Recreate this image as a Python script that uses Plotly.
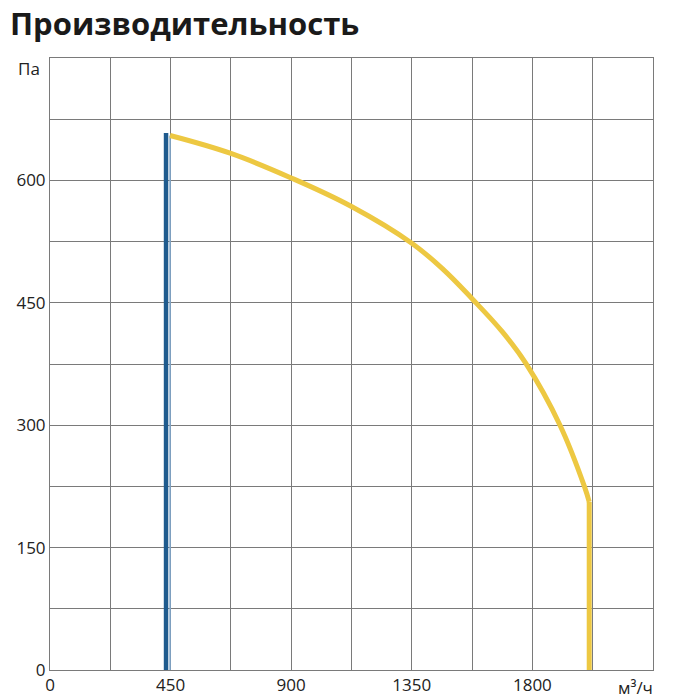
import plotly.graph_objects as go

# Data
curve_x = [448, 675, 900, 1125, 1350, 1467, 1575, 1689, 1775, 1903, 1994, 2012]
curve_y = [655, 633, 603, 568, 523, 491, 455, 414, 376, 300, 225, 206]
drop_x = [2012, 2012]
drop_y = [206, 0]
blue_x = [433, 433]
blue_y = [0, 658]
light_x = [448, 448]
light_y = [0, 655]

x_ticks = [0, 450, 900, 1350, 1800]
y_ticks = [0, 150, 300, 450, 600]
x_unit = "м³/ч"
y_unit = "Па"
title = "Производительность"

YELLOW = "#EDC842"
BLUE = "#1F5B8E"
LIGHT = "#7FA9D0"
GRID = "#7a7a7a"

# page has an 8px body margin, so the figure is 692 px and offsets are reduced by 8
W = H = 692

fig = go.Figure()
fig.add_trace(go.Scatter(x=light_x, y=light_y, mode="lines",
                         line=dict(color=LIGHT, width=1.5), hoverinfo="skip"))
fig.add_trace(go.Scatter(x=blue_x, y=blue_y, mode="lines",
                         line=dict(color=BLUE, width=4.5), hoverinfo="skip"))
fig.add_trace(go.Scatter(x=curve_x, y=curve_y, mode="lines",
                         line=dict(color=YELLOW, width=5, shape="spline", smoothing=1.1),
                         hoverinfo="skip"))
fig.add_trace(go.Scatter(x=drop_x, y=drop_y, mode="lines",
                         line=dict(color=YELLOW, width=5), hoverinfo="skip"))

font = "Open Sans, Noto Sans, sans-serif"
fig.update_layout(
    width=W, height=H,
    margin=dict(l=42, r=47, t=50, b=30, autoexpand=False),
    paper_bgcolor="white", plot_bgcolor="white",
    showlegend=False,
    font=dict(family=font, size=17, color="#222222"),
    title=dict(text="<b>" + title + "</b>", xref="container", x=2 / W, xanchor="left",
               yref="container", y=1 - 16 / H, yanchor="middle",
               font=dict(size=31, color="#1a1a1a", family=font)),
    xaxis=dict(range=[0, 2250], tickvals=x_ticks, ticktext=[str(v) for v in x_ticks],
               automargin=False,
               showgrid=True, gridcolor=GRID, gridwidth=1,
               minor=dict(dtick=225, showgrid=True, gridcolor=GRID, gridwidth=1),
               showline=True, linecolor=GRID, linewidth=1, mirror=True,
               zeroline=False, ticks="", ticklen=0, fixedrange=True),
    yaxis=dict(range=[0, 750], tickvals=y_ticks, ticktext=[str(v) for v in y_ticks],
               automargin=False,
               showgrid=True, gridcolor=GRID, gridwidth=1,
               minor=dict(dtick=75, showgrid=True, gridcolor=GRID, gridwidth=1),
               showline=True, linecolor=GRID, linewidth=1, mirror=True,
               zeroline=False, ticks="", ticklen=0, fixedrange=True),
)
fig.add_annotation(x=2250, y=0, xref="x", yref="y", text=x_unit, showarrow=False,
                   xanchor="center", yanchor="top", xshift=-18, yshift=-4,
                   font=dict(size=17, family=font, color="#222222"))
fig.add_annotation(x=0, y=750, xref="x", yref="y", text=y_unit, showarrow=False,
                   xanchor="right", yanchor="middle", xshift=-8, yshift=-10,
                   font=dict(size=17, family=font, color="#222222"))

fig.write_html("out.html")
